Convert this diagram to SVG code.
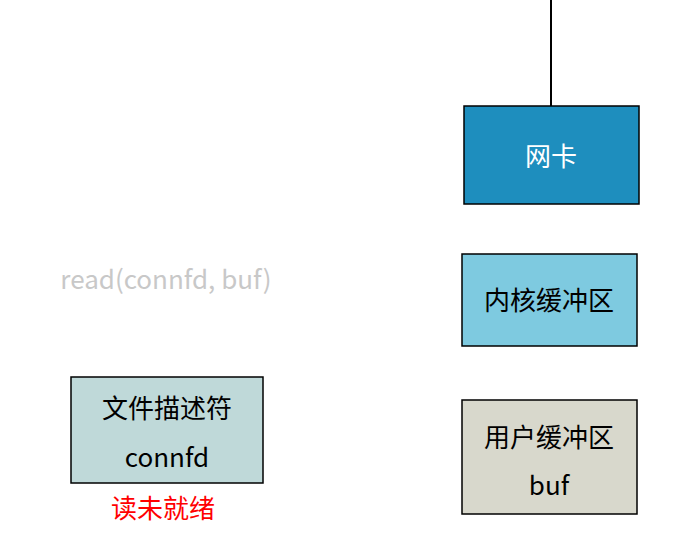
<svg xmlns="http://www.w3.org/2000/svg" width="679" height="547" viewBox="0 0 679 547">
<style>
text{font-family:"Noto Sans CJK SC","Noto Sans",sans-serif;font-size:26px;text-anchor:middle}
rect{stroke:#000;stroke-width:1.5}
</style>
<rect width="679" height="547" fill="#fff" style="stroke:none"/>
<g id="connectors"><line x1="551" y1="0" x2="551" y2="106" stroke="#000" stroke-width="2"/></g>
<g id="nic"><rect x="464" y="106" width="175" height="98" fill="#1e8ebe"/><text x="551" y="166" fill="#fff">网卡</text></g>
<g id="kbuf"><rect x="462" y="254" width="175" height="92" fill="#7ecae0"/><text x="549" y="310">内核缓冲区</text></g>
<g id="ubuf"><rect x="462" y="400" width="175" height="114" fill="#d8d8cc"/><text x="549" y="447">用户缓冲区</text><text x="549" y="495">buf</text></g>
<g id="fd"><rect x="71" y="377" width="192" height="106" fill="#bfd9d9"/><text x="167" y="418">文件描述符</text><text x="167" y="467">connfd</text></g>
<text x="166" y="289" fill="#c8c8c8">read(connfd, buf)</text>
<text x="163" y="518" fill="#ff0000">读未就绪</text>
</svg>
